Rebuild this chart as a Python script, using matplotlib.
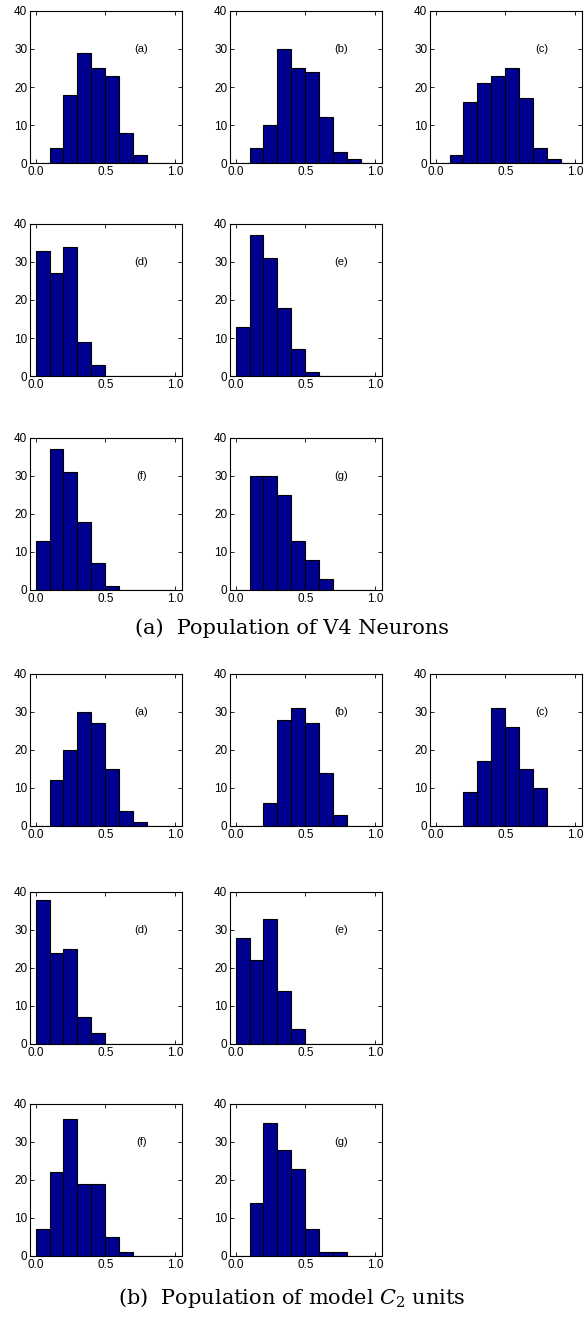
import numpy as np
import matplotlib
matplotlib.use('Agg')
import matplotlib.pyplot as plt

# bin centres of the histograms (width 0.1)
bin_centres = [0.05, 0.15, 0.25, 0.35, 0.45, 0.55, 0.65, 0.75, 0.85, 0.95]
panel_labels = ['(a)', '(b)', '(c)', '(d)', '(e)', '(f)', '(g)']

# counts, population of V4 neurons
v4_a = [0, 4, 18, 29, 25, 23, 8, 2, 0, 0]
v4_b = [0, 4, 10, 30, 25, 24, 12, 3, 1, 0]
v4_c = [0, 2, 16, 21, 23, 25, 17, 4, 1, 0]
v4_d = [33, 27, 34, 9, 3, 0, 0, 0, 0, 0]
v4_e = [13, 37, 31, 18, 7, 1, 0, 0, 0, 0]
v4_f = [13, 37, 31, 18, 7, 1, 0, 0, 0, 0]
v4_g = [0, 30, 30, 25, 13, 8, 3, 0, 0, 0]

# counts, population of model C2 units
c2_a = [0, 12, 20, 30, 27, 15, 4, 1, 0, 0]
c2_b = [0, 0, 6, 28, 31, 27, 14, 3, 0, 0]
c2_c = [0, 0, 9, 17, 31, 26, 15, 10, 0, 0]
c2_d = [38, 24, 25, 7, 3, 0, 0, 0, 0, 0]
c2_e = [28, 22, 33, 14, 4, 0, 0, 0, 0, 0]
c2_f = [7, 22, 36, 19, 19, 5, 1, 0, 0, 0]
c2_g = [0, 14, 35, 28, 23, 7, 1, 1, 0, 0]

captions = ['(a)  Population of V4 Neurons', '(b)  Population of model $C_2$ units']

plt.rcParams['font.family'] = ['Liberation Sans', 'DejaVu Sans']
plt.rcParams['mathtext.fontset'] = 'dejavuserif'

W, H = 584, 1319
fig = plt.figure(figsize=(W / 100, H / 100), dpi=100)

col_left = [30, 230, 430]
row_top = [11, 224, 438, 674, 892, 1104]
size = 152
# panel (row, col) positions inside one block of 7 histograms
slots = [(0, 0), (0, 1), (0, 2), (1, 0), (1, 1), (2, 0), (2, 1)]


def draw_hist(ax, counts, label):
    ax.bar(bin_centres, counts, width=0.1, color='#000090',
           edgecolor='black', linewidth=0.8)
    ax.set_xlim(-0.04, 1.05)
    ax.set_ylim(0, 40)
    ax.set_xticks([0.0, 0.5, 1.0])
    ax.set_xticklabels(['0.0', '0.5', '1.0'])
    ax.set_yticks([0, 10, 20, 30, 40])
    ax.tick_params(direction='in', length=3, width=0.6, labelsize=8.5,
                   top=True, right=True, pad=2, colors='black')
    for sp in ax.spines.values():
        sp.set_linewidth(0.8)
    ax.text(0.76, 30, label, fontsize=8, ha='center', va='center')


blocks = [[v4_a, v4_b, v4_c, v4_d, v4_e, v4_f, v4_g],
          [c2_a, c2_b, c2_c, c2_d, c2_e, c2_f, c2_g]]

for b, block in enumerate(blocks):
    for k, counts in enumerate(block):
        r, c = slots[k]
        top = row_top[b * 3 + r]
        ax = fig.add_axes([col_left[c] / W, 1 - (top + size) / H, size / W, size / H])
        draw_hist(ax, counts, panel_labels[k])

fig.text(292 / W, 1 - 628 / H, captions[0], ha='center', va='center',
         fontsize=15, family='DejaVu Serif')
fig.text(292 / W, 1 - 1298 / H, captions[1], ha='center', va='center',
         fontsize=15, family='DejaVu Serif')

fig.savefig('out.png', dpi=100)
